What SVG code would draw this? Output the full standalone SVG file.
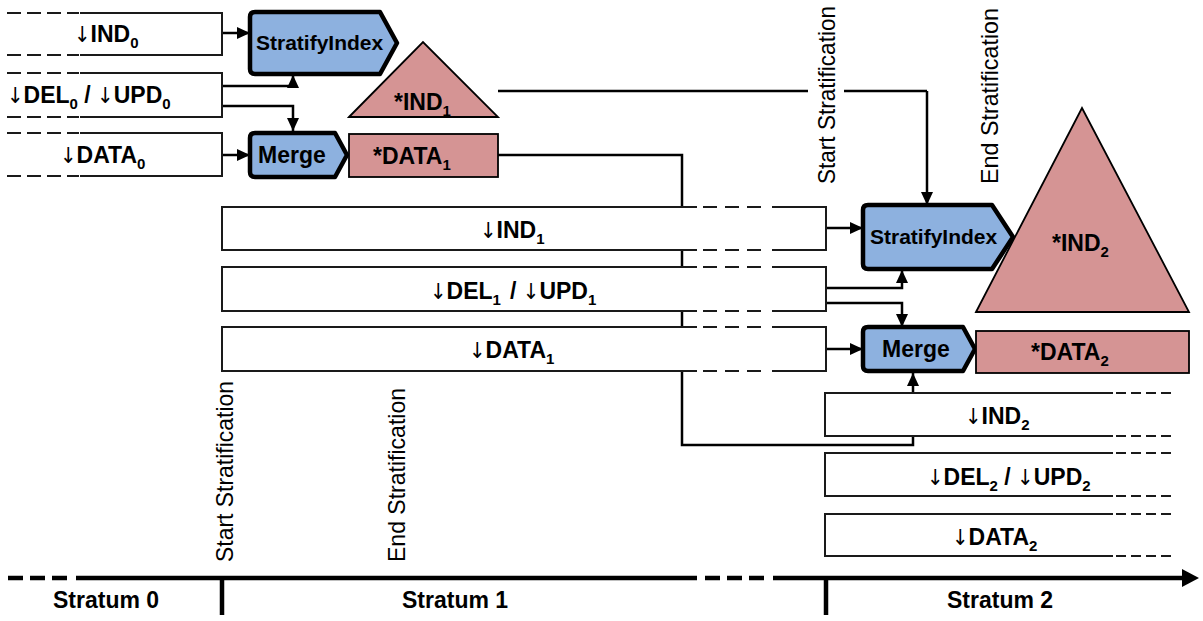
<svg xmlns="http://www.w3.org/2000/svg" width="1203" height="621" viewBox="0 0 1203 621">
<style>
.lbl{font-family:"Liberation Sans",Arial,sans-serif;font-weight:bold;font-size:23px;fill:#000}
.sub{font-size:15px}
.arr{font-family:"DejaVu Sans Condensed","DejaVu Sans",sans-serif;font-weight:normal;font-size:22px}
.vt{font-family:"Liberation Sans",Arial,sans-serif;font-size:24px;fill:#000}
.box{fill:none;stroke:#1a1a1a;stroke-width:2}
.boxbg{fill:#fff;stroke:none}
.dash1{fill:none;stroke:#1a1a1a;stroke-width:2;stroke-dasharray:14 6}
.dash2{fill:none;stroke:#1a1a1a;stroke-width:2;stroke-dasharray:14 8}
.dash3{fill:none;stroke:#1a1a1a;stroke-width:2;stroke-dasharray:10 5}
.op{fill:#8DB1DF;stroke:#000;stroke-width:4.5;stroke-linejoin:round}
.res{fill:#D59494;stroke:#000;stroke-width:1.8}
.con{fill:none;stroke:#000;stroke-width:2.5}
.axis{fill:none;stroke:#000;stroke-width:4.5}
.axisd{fill:none;stroke:#000;stroke-width:4.5;stroke-dasharray:15 7}
</style>
<defs>
<marker id="ah" markerUnits="userSpaceOnUse" markerWidth="13" markerHeight="12" refX="13" refY="6" orient="auto">
<path d="M0,0 L13,6 L0,12 Z" fill="#000"/>
</marker>
</defs>

<g id="connectors">
<path class="con" d="M222,33 H250" marker-end="url(#ah)"/>
<path class="con" d="M222,86 H293 V75" marker-end="url(#ah)"/>
<path class="con" d="M222,106 H293 V131" marker-end="url(#ah)"/>
<path class="con" d="M222,155 H250" marker-end="url(#ah)"/>
<path class="con" d="M498,91 H808 M844,91 H927"/>
<path class="con" d="M927,91 V205" marker-end="url(#ah)"/>
<path class="con" d="M498,155 H682 V445 H913 V373" marker-end="url(#ah)"/>
<path class="con" d="M826,228 H863" marker-end="url(#ah)"/>
<path class="con" d="M826,288 H902 V270" marker-end="url(#ah)"/>
<path class="con" d="M826,303 H902 V327" marker-end="url(#ah)"/>
<path class="con" d="M826,349 H863" marker-end="url(#ah)"/>
</g>

<g id="ind0">
<rect class="boxbg" x="7" y="13" width="215" height="42"/>
<path class="box" d="M80,13 H222 V55 H80"/>
<path class="dash1" d="M7,13 H79 M7,55 H79"/>
<text class="lbl" x="74" y="42"><tspan class="arr">↓</tspan>IND<tspan class="sub" dy="6">0</tspan></text>
</g>
<g id="del0">
<rect class="boxbg" x="7" y="73" width="215" height="44"/>
<path class="box" d="M80,73 H222 V117 H80"/>
<path class="dash1" d="M7,73 H79 M7,117 H79"/>
<text class="lbl" x="7" y="103"><tspan class="arr">↓</tspan>DEL<tspan class="sub" dy="6">0</tspan><tspan dy="-6"> / </tspan><tspan class="arr">↓</tspan>UPD<tspan class="sub" dy="6">0</tspan></text>
</g>
<g id="data0">
<rect class="boxbg" x="7" y="133" width="215" height="43"/>
<path class="box" d="M80,133 H222 V176 H80"/>
<path class="dash1" d="M7,133 H79 M7,176 H79"/>
<text class="lbl" x="60" y="163"><tspan class="arr">↓</tspan>DATA<tspan class="sub" dy="6">0</tspan></text>
</g>

<g id="stratify0">
<path class="op" d="M255,12 H380 L397,43 L380,74 H255 Q250,74 250,69 V17 Q250,12 255,12 Z"/>
<text class="lbl" x="256" y="50" style="font-size:21px">StratifyIndex</text>
</g>
<g id="merge0">
<path class="op" d="M255,133 H335 L347,155 L335,177 H255 Q250,177 250,172 V138 Q250,133 255,133 Z"/>
<text class="lbl" x="258" y="163" style="font-size:23px">Merge</text>
</g>
<g id="ind1star">
<polygon class="res" points="349,117 423,42 498,117"/>
<text class="lbl" x="394" y="110">*IND<tspan class="sub" dy="6">1</tspan></text>
</g>
<g id="data1star">
<rect class="res" x="349" y="134" width="149" height="43"/>
<text class="lbl" x="373" y="164">*DATA<tspan class="sub" dy="6">1</tspan></text>
</g>

<g id="ind1">
<rect class="boxbg" x="222" y="207" width="604" height="43"/>
<path class="box" d="M697,207 H222 V250 H697 M772,207 H826 V250 H772"/>
<path class="dash2" d="M703,207 H765 M703,250 H765"/>
<text class="lbl" x="480" y="238"><tspan class="arr">↓</tspan>IND<tspan class="sub" dy="6">1</tspan></text>
</g>
<g id="del1">
<rect class="boxbg" x="222" y="267" width="604" height="44"/>
<path class="box" d="M697,267 H222 V311 H697 M772,267 H826 V311 H772"/>
<path class="dash2" d="M703,267 H765 M703,311 H765"/>
<text class="lbl" x="430" y="299"><tspan class="arr">↓</tspan>DEL<tspan class="sub" dy="6">1</tspan><tspan dy="-6" x="510">/ </tspan><tspan class="arr">↓</tspan>UPD<tspan class="sub" dy="6">1</tspan></text>
</g>
<g id="data1">
<rect class="boxbg" x="222" y="327" width="604" height="44"/>
<path class="box" d="M697,327 H222 V371 H697 M772,327 H826 V371 H772"/>
<path class="dash2" d="M703,327 H765 M703,371 H765"/>
<text class="lbl" x="469" y="358"><tspan class="arr">↓</tspan>DATA<tspan class="sub" dy="6">1</tspan></text>
</g>

<g id="stratify1">
<path class="op" d="M868,205 H992 L1013,237 L992,269 H868 Q863,269 863,264 V210 Q863,205 868,205 Z"/>
<text class="lbl" x="870" y="244" style="font-size:21px">StratifyIndex</text>
</g>
<g id="merge1">
<path class="op" d="M868,327 H963 L975,349 L963,371 H868 Q863,371 863,366 V332 Q863,327 868,327 Z"/>
<text class="lbl" x="882" y="357" style="font-size:23px">Merge</text>
</g>
<g id="ind2star">
<polygon class="res" points="976,312 1082,108 1189,312"/>
<text class="lbl" x="1052" y="251">*IND<tspan class="sub" dy="6">2</tspan></text>
</g>
<g id="data2star">
<rect class="res" x="976" y="331" width="213" height="42"/>
<text class="lbl" x="1031" y="360">*DATA<tspan class="sub" dy="6">2</tspan></text>
</g>

<g id="ind2">
<rect class="boxbg" x="825" y="393" width="290" height="43"/>
<path class="box" d="M1113,393 H825 V436 H1113"/>
<path class="dash3" d="M1116,393 H1173 M1116,436 H1173"/>
<text class="lbl" x="965" y="424"><tspan class="arr">↓</tspan>IND<tspan class="sub" dy="6">2</tspan></text>
</g>
<g id="del2">
<rect class="boxbg" x="825" y="453" width="290" height="43"/>
<path class="box" d="M1113,453 H825 V496 H1113"/>
<path class="dash3" d="M1116,453 H1173 M1116,496 H1173"/>
<text class="lbl" x="927" y="485"><tspan class="arr">↓</tspan>DEL<tspan class="sub" dy="6">2</tspan><tspan dy="-6"> / </tspan><tspan class="arr">↓</tspan>UPD<tspan class="sub" dy="6">2</tspan></text>
</g>
<g id="data2">
<rect class="boxbg" x="825" y="514" width="290" height="42"/>
<path class="box" d="M1113,514 H825 V556 H1113"/>
<path class="dash3" d="M1116,514 H1173 M1116,556 H1173"/>
<text class="lbl" x="952" y="545"><tspan class="arr">↓</tspan>DATA<tspan class="sub" dy="6">2</tspan></text>
</g>

<g id="labels">
<text class="vt" transform="translate(233,562) rotate(-90)" textLength="181" lengthAdjust="spacingAndGlyphs">Start Stratification</text>
<text class="vt" transform="translate(405,562) rotate(-90)" textLength="174" lengthAdjust="spacingAndGlyphs">End Stratification</text>
<text class="vt" transform="translate(835,184) rotate(-90)" textLength="178" lengthAdjust="spacingAndGlyphs">Start Stratification</text>
<text class="vt" transform="translate(998,184) rotate(-90)" textLength="176" lengthAdjust="spacingAndGlyphs">End Stratification</text>
</g>

<g id="timeline">
<path class="axisd" d="M8,578 H70"/>
<path class="axis" d="M76,578 H697"/>
<path class="axisd" d="M705,578 H765"/>
<path class="axis" d="M773,578 H1184"/>
<polygon points="1182,569 1199,578 1182,587" fill="#000"/>
<path class="axis" d="M222,578 V615 M826,578 V615"/>
<text class="lbl" x="53" y="608">Stratum 0</text>
<text class="lbl" x="402" y="608">Stratum 1</text>
<text class="lbl" x="947" y="608">Stratum 2</text>
</g>
</svg>
